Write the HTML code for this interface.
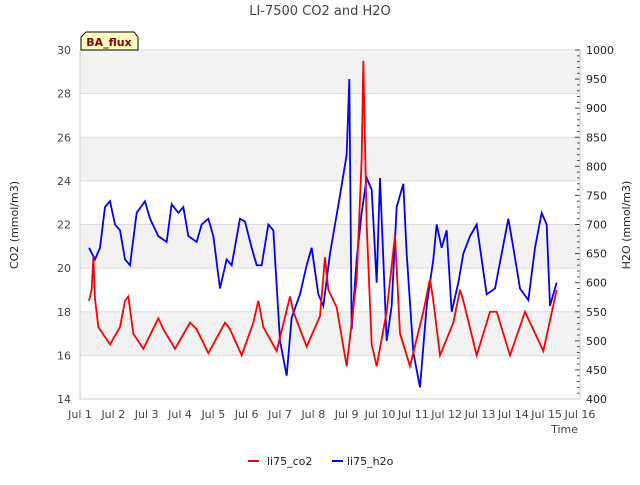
<!DOCTYPE html>
<html><head><meta charset="utf-8"><style>
body{margin:0;background:#fff;font-family:"Liberation Sans",sans-serif}
svg text{font-family:"DejaVu Sans","Liberation Sans",sans-serif}
</style></head><body>
<svg id="c" width="640" height="480" xmlns="http://www.w3.org/2000/svg"></svg>
<script>
const co2Time=[1.27,1.35,1.4,1.45,1.55,1.9,2.2,2.35,2.45,2.6,2.9,3.35,3.5,3.85,4.3,4.5,4.85,5.35,5.5,5.85,6.2,6.35,6.5,6.9,7.3,7.4,7.8,8.2,8.35,8.45,8.7,9.0,9.3,9.45,9.5,9.6,9.75,9.9,10.2,10.45,10.6,10.9,11.3,11.5,11.6,11.8,12.2,12.4,12.5,12.9,13.3,13.5,13.9,14.35,14.5,14.9,15.3];
const co2Vals=[18.5,19.0,20.5,18.6,17.3,16.5,17.3,18.5,18.7,17.0,16.3,17.7,17.2,16.3,17.5,17.2,16.1,17.5,17.2,16.0,17.5,18.5,17.3,16.2,18.7,18.0,16.4,17.8,20.5,19.0,18.2,15.5,19.5,25.0,29.5,22.0,16.5,15.5,18.0,21.5,17.0,15.5,18.0,19.5,18.5,16.0,17.5,19.0,18.5,16.0,18.0,18.0,16.0,18.0,17.5,16.2,19.0];
const h2oTime=[1.27,1.45,1.6,1.75,1.9,2.05,2.2,2.35,2.5,2.7,2.95,3.1,3.35,3.6,3.75,3.95,4.1,4.25,4.5,4.65,4.85,5.0,5.2,5.4,5.55,5.8,5.95,6.15,6.3,6.45,6.65,6.8,7.0,7.2,7.35,7.6,7.8,7.95,8.15,8.3,8.5,8.65,8.8,9.0,9.08,9.15,9.3,9.45,9.6,9.75,9.9,10.0,10.2,10.35,10.5,10.7,10.8,11.0,11.2,11.4,11.6,11.7,11.85,12.0,12.15,12.35,12.5,12.7,12.9,13.05,13.2,13.45,13.65,13.85,14.0,14.2,14.45,14.65,14.85,15.0,15.1,15.3];
const h2oVals=[660,640,660,730,740,700,690,640,630,720,740,710,680,670,735,720,730,680,670,700,710,680,590,640,630,710,705,660,630,630,700,690,500,440,540,580,630,660,580,560,650,700,750,820,950,520,640,720,780,760,600,780,500,560,730,770,650,480,420,560,640,700,660,690,550,600,650,680,700,640,580,590,650,710,660,590,570,660,720,700,560,600];
const leftTicks=[14,16,18,20,22,24,26,28,30];
const rightTicks=[400,450,500,550,600,650,700,750,800,850,900,950,1000];
const dayTicks=[1,2,3,4,5,6,7,8,9,10,11,12,13,14,15,16];
const L=80,R=580,T=50,B=399;
const x=d=>L+(d-1)*(R-L)/15;
const yl=v=>B-(v-14)*(B-T)/16;
const yr=v=>B-(v-400)*(B-T)/600;
const s=document.getElementById('c');const NS='http://www.w3.org/2000/svg';
function add(tag,attrs,txt){const e=document.createElementNS(NS,tag);for(const k in attrs)e.setAttribute(k,attrs[k]);if(txt!==undefined)e.textContent=txt;s.appendChild(e);return e;}
let e;
for(let i=0;i<leftTicks.length-1;i+=2){}
[16,20,24,28].forEach(v=>{e=add('rect',{x:L,y:yl(v+2),width:R-L,height:yl(v)-yl(v+2),fill:'#f2f2f2'});

});
leftTicks.forEach(v=>{e=add('line',{x1:L,x2:R,y1:yl(v),y2:yl(v),stroke:'#dcdcdc'});


e=add('text',{x:L-9,y:yl(v)+4,'text-anchor':'end','font-size':11,fill:'#444'},v);

});
for(let v=400;v<=1000;v+=10){add('line',{x1:R-(v%50?3:5),x2:R,y1:yr(v),y2:yr(v),stroke:'#444'});}
rightTicks.forEach(v=>{e=add('text',{x:R+6,y:yr(v)+4,'font-size':11,fill:'#222'},v);

});
dayTicks.forEach(d=>{e=add('text',{x:x(d),y:B+19,'text-anchor':'middle','font-size':11,fill:'#444'},'Jul '+d);

});
add('line',{x1:L,x2:L,y1:T,y2:B,stroke:'#ccc'});add('line',{x1:R,x2:R,y1:T,y2:B,stroke:'#ccc'});add('line',{x1:L,x2:R,y1:B,y2:B,stroke:'#ccc'});
e=add('polyline',{points:h2oTime.map((t,i)=>x(t)+','+yr(h2oVals[i])).join(' '),fill:'none',stroke:'#0000ff','stroke-width':1.8});


e=add('polyline',{points:co2Time.map((t,i)=>x(t)+','+yl(co2Vals[i])).join(' '),fill:'none',stroke:'#ff0000','stroke-width':1.8});


e=add('text',{x:320,y:15,'text-anchor':'middle','font-size':13,fill:'#444'},'LI-7500 CO2 and H2O');


e=add('text',{x:18,y:225,'text-anchor':'middle','font-size':11,fill:'#222',transform:'rotate(-90 18 225)'},'CO2 (mmol/m3)');


e=add('text',{x:630,y:225,'text-anchor':'middle','font-size':11,fill:'#222',transform:'rotate(-90 630 225)'},'H2O (mmol/m3)');


e=add('text',{x:578,y:433,'text-anchor':'end','font-size':11,fill:'#444'},'Time');


e=add('path',{d:'M81,50 L81,37 L86,32 L134,32 L138,37 L138,50 Z',fill:'#ffffc0',stroke:'#000'});


e=add('text',{x:109,y:46,'text-anchor':'middle','font-size':11,'font-weight':'bold',fill:'#8b0000'},'BA_flux');


add('line',{x1:248,x2:259,y1:461,y2:461,stroke:'#ff0000','stroke-width':2});
e=add('text',{x:267,y:465,'font-size':11,fill:'#222'},'li75_co2');


add('line',{x1:332,x2:343,y1:461,y2:461,stroke:'#0000ff','stroke-width':2});
e=add('text',{x:347,y:465,'font-size':11,fill:'#222'},'li75_h2o');


</script>
</body></html>
